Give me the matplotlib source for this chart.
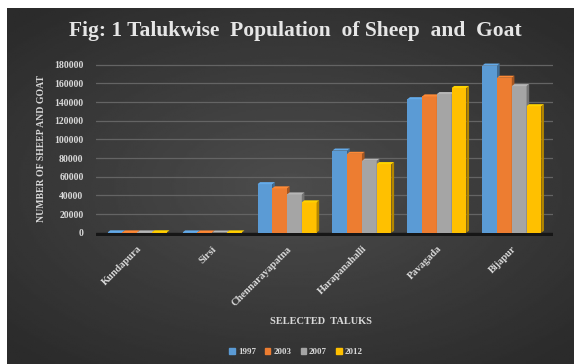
import matplotlib.pyplot as plt
from matplotlib.patches import Polygon
import numpy as np

talukas = ['Kundapura', 'Sirsi', 'Chennarayapatna', 'Harapanahalli', 'Pavagada', 'Bijapur']
years = ['1997', '2003', '2007', '2012']
pop_1997 = [400, 300, 52000, 88000, 143000, 179000]
pop_2003 = [350, 250, 47500, 84500, 146000, 166000]
pop_2007 = [300, 200, 41000, 77000, 148500, 157000]
pop_2012 = [450, 350, 32500, 73500, 155000, 135500]
colors = ['#5b9bd5', '#ed7d31', '#a5a5a5', '#ffc000']

W, H = 574, 364
fig = plt.figure(figsize=(W / 100, H / 100), dpi=100, facecolor='white')

# dark radial gradient background
bg = fig.add_axes([7 / W, 0, 1 - 7 / W, 1 - 8 / H])
gx, gy = np.meshgrid(np.linspace(-1, 1, 300), np.linspace(-1, 1, 200))
r = np.sqrt(gx ** 2 + (gy * 1.1) ** 2)
bg.imshow(0.30 - 0.13 * np.clip(r, 0, 1.4) / 1.4, cmap='gray', vmin=0, vmax=1,
          aspect='auto', extent=[0, 1, 0, 1])
bg.set_axis_off()

ax = fig.add_axes([96 / W, (H - 236) / H, 457 / W, (236 - 60) / H])
ax.set_facecolor('none')
ymin, ymax = -3500, 185000
ax.set_xlim(-0.55, 5.55)
ax.set_ylim(ymin, ymax)

# dark floor under the bars
ax.axhspan(ymin, 0, color='#161616', zorder=1)
for v in range(20000, 180001, 20000):
    ax.axhline(v, color='#646464', lw=0.9, zorder=0)

x = np.arange(len(talukas))
bw = 0.197
series = [pop_1997, pop_2003, pop_2007, pop_2012]
dx, dy = 0.035, 2200

def shade(c, f):
    rgb = np.array(plt.matplotlib.colors.to_rgb(c))
    return tuple(np.clip(rgb * f, 0, 1))

for i, (vals, c) in enumerate(zip(series, colors)):
    xs = x + (i - 1.5) * bw
    ax.bar(xs, vals, bw, color=c, zorder=3 + i, linewidth=0)
    for xi, v in zip(xs, vals):
        right = xi + bw / 2
        left = xi - bw / 2
        ax.add_patch(Polygon([(right, 0), (right + dx, dy), (right + dx, v + dy), (right, v)],
                             closed=True, color=shade(c, 0.7), lw=0, zorder=3 + i))
        ax.add_patch(Polygon([(left, v), (left + dx, v + dy), (right + dx, v + dy), (right, v)],
                             closed=True, color=shade(c, 1.1), lw=0, zorder=3 + i))

for s in ax.spines.values():
    s.set_visible(False)

txt = '#d9d9d9'
serif = 'Liberation Serif'
ax.set_yticks(range(0, 180001, 20000))
ax.set_yticklabels([str(v) for v in range(0, 180001, 20000)],
                   fontsize=7, fontweight='bold', color=txt, family=serif)
ax.tick_params(axis='y', length=0, pad=9)
ax.set_xticks(x)
ax.set_xticklabels(talukas, rotation=45, ha='right', va='top', rotation_mode='anchor',
                   fontsize=7.5, fontweight='bold', color=txt, family=serif)
ax.tick_params(axis='x', length=0, pad=6)

fig.text(42 / W, 1 - 149 / H, 'NUMBER OF SHEEP AND GOAT', rotation=90, ha='center',
         va='center', fontsize=7, fontweight='bold', color=txt, family=serif)
fig.text(321 / W, 1 - 321 / H, 'SELECTED  TALUKS', ha='center', va='center',
         fontsize=7.5, fontweight='bold', color=txt, family=serif)
fig.text(295 / W, 1 - 31 / H, 'Fig: 1 Talukwise  Population  of Sheep  and  Goat',
         ha='center', va='center', fontsize=15.5, fontweight='bold', color='#e6e6e6', family=serif)

handles = [plt.Rectangle((0, 0), 1, 1, color=c) for c in colors]
leg = fig.legend(handles, years, loc='center', bbox_to_anchor=(296 / W, 1 - 352 / H),
                 ncol=4, frameon=False, handlelength=0.6, handleheight=0.6,
                 handletextpad=0.35, columnspacing=1.0,
                 prop={'family': serif, 'weight': 'bold', 'size': 6.5})
for t in leg.get_texts():
    t.set_color(txt)

fig.savefig('out.png', dpi=100, facecolor='white')
